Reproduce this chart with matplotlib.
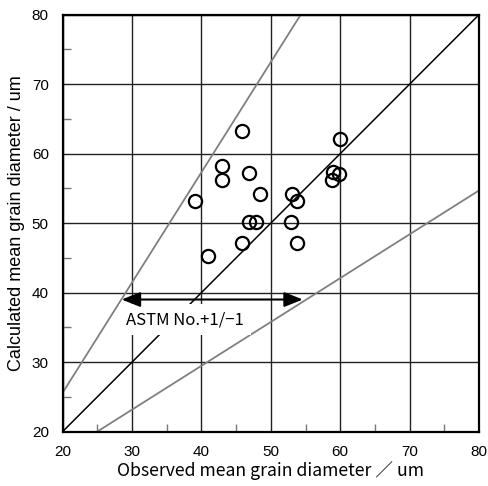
"""Observed vs calculated mean grain diameter, with ASTM +1/-1 band."""
import numpy as np
import matplotlib
matplotlib.use("Agg")
import matplotlib.pyplot as plt
from matplotlib.ticker import MultipleLocator

plt.rcParams["font.family"] = ["Liberation Sans", "DejaVu Sans"]
jp_font = ["Noto Sans CJK JP", "DejaVu Sans"]

# -------------------------------------------------------
# Data.
# -------------------------------------------------------
observed = [45.8, 59.9, 42.9, 42.9, 46.8, 48.5, 39.1, 46.8, 47.9,
            45.9, 40.9, 58.9, 59.8, 58.8, 53.0, 53.7, 52.9, 53.7]
calculated = [63.2, 62.1, 58.2, 56.2, 57.2, 54.2, 53.2, 50.1, 50.1,
              47.2, 45.2, 57.3, 57.1, 56.2, 54.2, 53.2, 50.2, 47.2]

# reference lines (end points)
one_to_one_x = [20, 80]
one_to_one_y = [20, 80]
upper_x = [20, 54.3]
upper_y = [25.6, 80]
lower_x = [25.0, 80]
lower_y = [20, 54.7]

# ASTM band arrow
arrow_y = 39.0
arrow_left = 28.5
arrow_right = 54.6

# -------------------------------------------------------
# Plot.
# -------------------------------------------------------
fig = plt.figure(figsize=(4.88, 4.86), dpi=100)
ax = fig.add_axes([0.1285, 0.1121, 0.8531, 0.8577])

ax.set_xlim(20, 80)
ax.set_ylim(20, 80)
ax.xaxis.set_major_locator(MultipleLocator(10))
ax.yaxis.set_major_locator(MultipleLocator(10))
ax.xaxis.set_minor_locator(MultipleLocator(5))
ax.yaxis.set_minor_locator(MultipleLocator(5))
ax.grid(which="major", color="#222222", linewidth=1.0, zorder=0)
ax.tick_params(which="major", direction="in", length=0, pad=10,
               labelsize=11)
ax.tick_params(which="minor", direction="in", length=6, width=1.0,
               color="#777777")
for sp in ax.spines.values():
    sp.set_linewidth(1.6)

ax.plot(upper_x, upper_y, color="#808080", lw=1.3, zorder=2)
ax.plot(lower_x, lower_y, color="#808080", lw=1.3, zorder=2)
ax.plot(one_to_one_x, one_to_one_y, color="black", lw=1.1, zorder=2)

ax.plot(observed, calculated, linestyle="none", marker="o",
        markersize=9.5, markerfacecolor="none", markeredgecolor="black",
        markeredgewidth=1.6, zorder=5)

ax.annotate(
    "",
    xy=(arrow_left, arrow_y),
    xytext=(arrow_right, arrow_y),
    arrowprops=dict(
        arrowstyle="<|-|>,head_length=0.75,head_width=0.3",
        mutation_scale=15,
        color="black",
        lw=1.5,
        shrinkA=0,
        shrinkB=0,
        ),
    zorder=6,
    )
ax.text(37.6, 36.1, "ASTM No.+1/\u22121", family=jp_font, fontsize=12,
        ha="center", va="center", zorder=4,
        bbox=dict(facecolor="white", edgecolor="none", pad=5))

ax.set_xlabel("Observed mean grain diameter \uff0f um", family=jp_font,
              fontsize=12.7, labelpad=1)
ax.set_ylabel("Calculated mean grain diameter / um", fontsize=13)
ax.yaxis.set_label_coords(-0.09, 0.5)

fig.savefig("out.png", dpi=100)
